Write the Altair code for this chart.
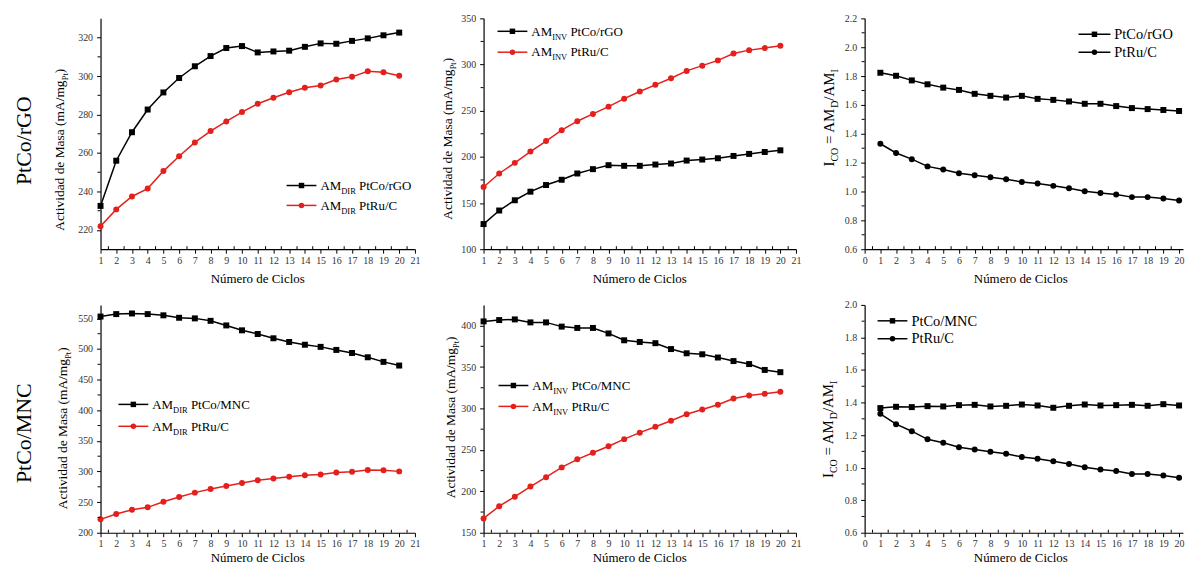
import altair as alt
import pandas as pd

FONT = "Liberation Serif"
RED = "#e3201b"
BLACK = "#000000"

# ---------------- data ----------------
ciclos = list(range(1, 21))

dir_ptco_rgo = [232.5, 256.0, 270.8, 282.6, 291.5, 299.0, 305.1, 310.4, 314.6, 315.6,
                312.3, 312.8, 313.2, 315.2, 317.0, 316.8, 318.3, 319.6, 321.2, 322.6]
dir_ptru_c = [221.9, 230.7, 237.4, 241.5, 250.6, 258.3, 265.5, 271.4, 276.4, 281.3,
              285.6, 288.7, 291.6, 293.9, 295.1, 298.2, 299.6, 302.5, 302.0, 300.2]
inv_ptco_rgo = [127.2, 141.9, 153.0, 162.3, 169.5, 175.2, 182.0, 186.7, 191.0, 190.3,
                190.3, 191.7, 192.8, 196.0, 197.1, 198.5, 201.0, 203.2, 205.3, 207.1]
inv_ptru_c = [167.3, 182.0, 193.5, 205.7, 217.1, 228.9, 238.6, 246.5, 254.4, 263.0,
              270.8, 278.0, 285.2, 293.1, 298.8, 304.5, 312.0, 315.6, 317.8, 320.3]
ico_ptco_rgo = [1.823, 1.802, 1.770, 1.743, 1.720, 1.704, 1.677, 1.663, 1.651, 1.663,
                1.642, 1.635, 1.624, 1.608, 1.608, 1.592, 1.578, 1.571, 1.565, 1.558]
ico_ptru_c = [1.331, 1.267, 1.224, 1.174, 1.153, 1.126, 1.112, 1.098, 1.085, 1.066,
              1.055, 1.039, 1.023, 1.002, 0.989, 0.979, 0.961, 0.961, 0.952, 0.938]
dir_ptco_mnc = [553.0, 557.0, 558.0, 557.0, 555.0, 551.0, 550.0, 546.0, 538.5, 530.5,
                524.5, 517.5, 511.5, 507.0, 503.5, 498.5, 493.5, 486.5, 479.0, 473.0]
inv_ptco_mnc = [405.1, 406.7, 407.5, 403.9, 403.9, 398.8, 397.2, 397.2, 390.6, 382.3,
                380.3, 378.8, 371.7, 366.6, 365.4, 361.5, 357.2, 353.6, 346.5, 343.8]
ico_ptco_mnc = [1.366, 1.374, 1.372, 1.378, 1.376, 1.384, 1.386, 1.376, 1.380, 1.388,
                1.382, 1.368, 1.380, 1.388, 1.382, 1.384, 1.386, 1.380, 1.390, 1.382]

x_ticks_1 = list(range(1, 22))
x_minor_1 = [v + 0.5 for v in range(1, 21)]
x_ticks_0 = list(range(0, 21))
x_minor_0 = [v + 0.5 for v in range(0, 20)]

y_ticks_p1 = [220, 240, 260, 280, 300, 320]
y_minor_p1 = [230, 250, 270, 290, 310]
y_ticks_p2 = [100, 150, 200, 250, 300, 350]
y_minor_p2 = [125, 175, 225, 275, 325]
y_ticks_p3 = [0.6, 0.8, 1.0, 1.2, 1.4, 1.6, 1.8, 2.0, 2.2]
y_minor_p3 = [0.7, 0.9, 1.1, 1.3, 1.5, 1.7, 1.9, 2.1]
y_ticks_p4 = [200, 250, 300, 350, 400, 450, 500, 550]
y_minor_p4 = [225, 275, 325, 375, 425, 475, 525]
y_ticks_p5 = [150, 200, 250, 300, 350, 400]
y_minor_p5 = [175, 225, 275, 325, 375]
y_ticks_p6 = [0.6, 0.8, 1.0, 1.2, 1.4, 1.6, 1.8, 2.0]
y_minor_p6 = [0.7, 0.9, 1.1, 1.3, 1.5, 1.7, 1.9]

# ---------------- helpers ----------------
ONE = pd.DataFrame({"k": [0]})

# Times / Liberation Serif advance widths (per 1000 em)
WID = {" ": 250, "(": 333, ")": 333, "/": 278, "=": 564, "A": 722, "C": 667, "D": 722,
       "G": 722, "I": 333, "M": 889, "N": 722, "O": 722, "P": 556, "R": 667, "V": 722,
       "a": 444, "c": 444, "d": 500, "e": 444, "g": 500, "i": 278, "l": 278, "m": 778,
       "o": 500, "r": 333, "s": 389, "t": 278, "u": 500, "v": 500, "ú": 500}


def tw(s, size):
    return sum(WID.get(ch, 500) for ch in s) * size / 1000.0


def rich(segs, x, y, angle=0, center=False):
    """segs: list of (text, fontsize, dy); leading spaces become offsets."""
    total = sum(tw(t, s) for t, s, _ in segs)
    off = -total / 2.0 if center else 0.0
    out = []
    for t, s, dy in segs:
        lead = len(t) - len(t.lstrip(" "))
        shown = t.lstrip(" ")
        kw = dict(text=shown, font=FONT, fontSize=s, align="left", baseline="alphabetic",
                  color="black", dx=off + tw(" " * lead, s), dy=dy)
        if angle:
            kw["angle"] = angle
        out.append(alt.Chart(ONE).mark_text(**kw).encode(x=alt.value(x), y=alt.value(y)))
        off += tw(t, s)
    return out


def legend_entry(x0, x1, y, color, shape, segs, fsize):
    rule = alt.Chart(ONE).mark_rule(color=color, strokeWidth=1.5).encode(
        x=alt.value(x0), x2=alt.value(x1), y=alt.value(y))
    pt = alt.Chart(ONE).mark_point(filled=True, shape=shape, size=30, opacity=1,
                                   color=color).encode(x=alt.value((x0 + x1) / 2.0), y=alt.value(y))
    return [rule, pt] + rich(segs, x1 + 4, y + 0.33 * fsize)


def panel(w, h, xdom, xticks, xminor, ydom, yticks, yminor, yfmt, series,
          legend, ytitle, ytitle_pos, ytitle_size, xtitle_pos, extra=None):
    xs = alt.Scale(domain=xdom, nice=False, zero=False)
    ys = alt.Scale(domain=ydom, nice=False, zero=False)
    xaxis = alt.Axis(values=xticks, format="d", title=None, labelPadding=2, tickSize=4,
                     labelOverlap=False, labelFlush=False, grid=False)
    yaxis = alt.Axis(values=yticks, format=yfmt, title=None, labelPadding=4, tickSize=4,
                     labelOverlap=False, labelFlush=False, grid=False)
    X = lambda: alt.X("ciclo:Q", scale=xs, axis=xaxis)
    Y = lambda: alt.Y("valor:Q", scale=ys, axis=yaxis)
    layers = []
    for vals, color, shape in series:
        df = pd.DataFrame({"ciclo": ciclos, "valor": vals})
        base = alt.Chart(df)
        layers.append(base.mark_line(color=color, strokeWidth=1.5).encode(x=X(), y=Y()))
        layers.append(base.mark_point(filled=True, shape=shape, size=36, opacity=1,
                                      color=color).encode(x=X(), y=Y()))
    # minor ticks
    layers.append(alt.Chart(pd.DataFrame({"ciclo": xminor})).mark_rule(
        color="black", strokeWidth=1).encode(x=X(), y=alt.value(h), y2=alt.value(h - 3)))
    layers.append(alt.Chart(pd.DataFrame({"valor": yminor})).mark_rule(
        color="black", strokeWidth=1).encode(y=Y(), x=alt.value(-3), x2=alt.value(0)))
    # legend
    for entry in legend:
        layers += legend_entry(*entry)
    # y title (rotated, with subscripts)
    layers += rich(ytitle, ytitle_pos[0] + 0.35 * ytitle_size, ytitle_pos[1], angle=270, center=True)
    # x title
    layers.append(alt.Chart(ONE).mark_text(text="Número de Ciclos", font=FONT, fontSize=13,
                                           align="center", baseline="middle", color="black").encode(
        x=alt.value(xtitle_pos[0]), y=alt.value(xtitle_pos[1])))
    if extra:
        layers += extra
    return alt.layer(*layers).properties(width=w, height=h)


def row_label(text, x, y):
    return alt.Chart(ONE).mark_text(text=text, font=FONT, fontSize=22, angle=270,
                                    align="center", baseline="middle", color="black").encode(
        x=alt.value(x), y=alt.value(y))


def am_title(sub_size=8.5):
    f = 13.5
    return [("Actividad de Masa (mA/mg", f, 0), ("Pt", sub_size, 3.5), (")", f, 0)]


def ico_title():
    f, s = 15, 10
    return [("I", f, 0), ("CO", s, 4), (" = AM", f, 0), ("D", s, 4), ("/AM", f, 0), ("I", s, 4)]


def leg_am(sub, name, f=13):
    s = 8.5
    return [("AM", f, 0), (sub, s, 4), (" " + name, f, 0)]


W1, W2, W3 = 316, 314, 320
H1, H2 = 232, 229

anchor = alt.Chart(ONE).mark_rule(opacity=0).encode(
    x=alt.value(-93), x2=alt.value(-92), y=alt.value(-9), y2=alt.value(-9))

p1 = panel(W1, H1, [1, 21], x_ticks_1, x_minor_1, [210, 330], y_ticks_p1, y_minor_p1, "d",
           [(dir_ptco_rgo, BLACK, "square"), (dir_ptru_c, RED, "circle")],
           [(187, 217, 168, BLACK, "square", leg_am("DIR", "PtCo/rGO"), 13),
            (187, 217, 188, RED, "circle", leg_am("DIR", "PtRu/C"), 13)],
           am_title(), (-41, 132), 13.5, (158, H1 + 30),
           extra=[row_label("PtCo/rGO", -77, 123), anchor])

p2 = panel(W2, H1, [1, 21], x_ticks_1, x_minor_1, [100, 350], y_ticks_p2, y_minor_p2, "d",
           [(inv_ptco_rgo, BLACK, "square"), (inv_ptru_c, RED, "circle")],
           [(14, 44, 13, BLACK, "square", leg_am("INV", "PtCo/rGO"), 13),
            (14, 44, 34, RED, "circle", leg_am("INV", "PtRu/C"), 13)],
           am_title(), (-36, 121), 13.5, (157, H1 + 30))

p3 = panel(W3, H1, [0, 20.25], x_ticks_0, x_minor_0, [0.6, 2.2], y_ticks_p3, y_minor_p3, ".1f",
           [(ico_ptco_rgo, BLACK, "square"), (ico_ptru_c, BLACK, "circle")],
           [(215, 247, 16, BLACK, "square", [("PtCo/rGO", 14.5, 0)], 14.5),
            (215, 247, 34, BLACK, "circle", [("PtRu/C", 14.5, 0)], 14.5)],
           ico_title(), (-36, 100), 15, (157, H1 + 30))

p4 = panel(W1, H2, [1, 21], x_ticks_1, x_minor_1, [200, 572], y_ticks_p4, y_minor_p4, "d",
           [(dir_ptco_mnc, BLACK, "square"), (dir_ptru_c, RED, "circle")],
           [(18, 48, 100, BLACK, "square", leg_am("DIR", "PtCo/MNC"), 13),
            (18, 48, 122, RED, "circle", leg_am("DIR", "PtRu/C"), 13)],
           am_title(), (-38, 124), 13.5, (158, H2 + 25),
           extra=[row_label("PtCo/MNC", -77, 129)])

p5 = panel(W2, H2, [1, 21], x_ticks_1, x_minor_1, [150, 425], y_ticks_p5, y_minor_p5, "d",
           [(inv_ptco_mnc, BLACK, "square"), (inv_ptru_c, RED, "circle")],
           [(15, 45, 81, BLACK, "square", leg_am("INV", "PtCo/MNC"), 13),
            (15, 45, 102, RED, "circle", leg_am("INV", "PtRu/C"), 13)],
           am_title(), (-33, 113), 13.5, (157, H2 + 25))

p6 = panel(W3, H2, [0, 20.25], x_ticks_0, x_minor_0, [0.6, 2.0], y_ticks_p6, y_minor_p6, ".1f",
           [(ico_ptco_mnc, BLACK, "square"), (ico_ptru_c, BLACK, "circle")],
           [(13, 43, 16, BLACK, "square", [("PtCo/MNC", 14.5, 0)], 14.5),
            (13, 43, 34, BLACK, "circle", [("PtRu/C", 14.5, 0)], 14.5)],
           ico_title(), (-37, 125), 15, (157, H2 + 25))

chart = alt.concat(p1, p2, p3, p4, p5, p6, columns=3,
                   spacing={"row": 56, "column": 69}, bounds="flush").properties(
    padding=0, background="white"
).configure_view(stroke=None).configure_axis(
    grid=False, domainColor="black", domainWidth=1.2, tickColor="black", tickWidth=1,
    labelFont=FONT, labelFontSize=10, labelColor="#333333")

chart.save("out.html", embed_options={"renderer": "svg", "actions": False})
